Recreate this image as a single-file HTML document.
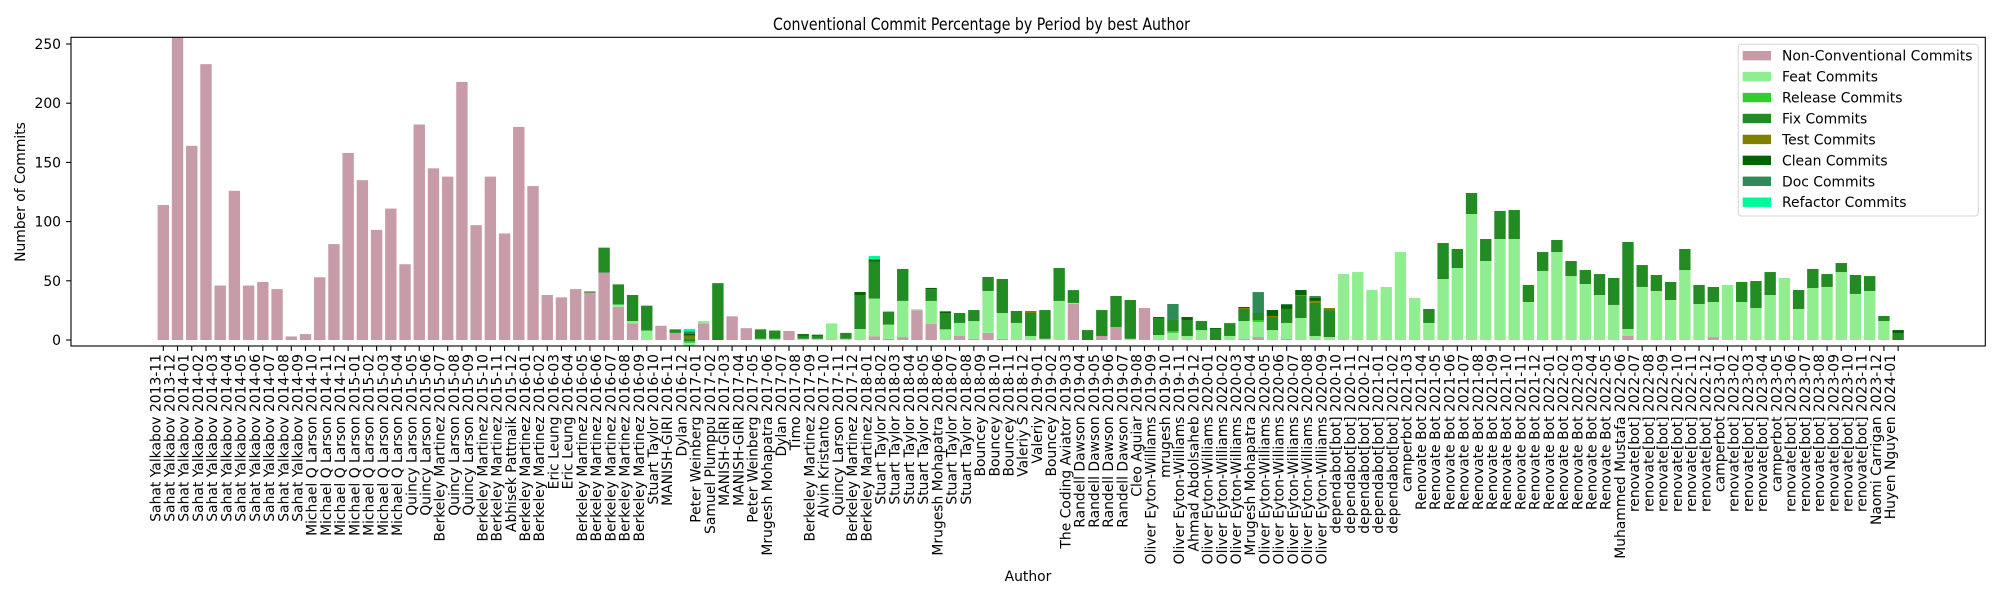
<!DOCTYPE html>
<html><head><meta charset="utf-8"><style>
html,body{margin:0;padding:0;background:#fff;}
svg{display:block;font-family:"DejaVu Sans","Liberation Sans",sans-serif;}
</style></head><body>
<svg id="chart" width="2000" height="600" xmlns="http://www.w3.org/2000/svg">
<text x="981.5" y="30" font-size="16.7" text-anchor="middle" textLength="417" lengthAdjust="spacingAndGlyphs">Conventional Commit Percentage by Period by best Author</text>
<text transform="translate(25,192) rotate(-90)" font-size="13.9" text-anchor="middle">Number of Commits</text>
<text x="1028" y="581" font-size="13.9" text-anchor="middle">Author</text>
<g id="bars"></g>
<g id="xticks"></g>
<g id="yticks"></g>
<rect x="71" y="37.3" width="1914.3" height="308.7" fill="none" stroke="#000" stroke-width="1.1"/>
<g id="legend"></g>
</svg>
<script>
const authors = ["Sahat Yalkabov","Sahat Yalkabov","Sahat Yalkabov","Sahat Yalkabov","Sahat Yalkabov","Sahat Yalkabov","Sahat Yalkabov","Sahat Yalkabov","Sahat Yalkabov","Sahat Yalkabov","Sahat Yalkabov",
"Michael Q Larson","Michael Q Larson","Michael Q Larson","Michael Q Larson","Michael Q Larson","Michael Q Larson","Michael Q Larson",
"Quincy Larson","Quincy Larson","Berkeley Martinez","Quincy Larson","Quincy Larson","Berkeley Martinez","Berkeley Martinez","Abhisek Pattnaik","Berkeley Martinez","Berkeley Martinez","Eric Leung","Eric Leung",
"Berkeley Martinez","Berkeley Martinez","Berkeley Martinez","Berkeley Martinez","Berkeley Martinez","Stuart Taylor","MANISH-GIRI","Dylan","Peter Weinberg","Samuel Plumppu",
"MANISH-GIRI","MANISH-GIRI","Peter Weinberg","Mrugesh Mohapatra","Dylan","Timo","Berkeley Martinez","Alvin Kristanto","Quincy Larson","Berkeley Martinez",
"Berkeley Martinez","Stuart Taylor","Stuart Taylor","Stuart Taylor","Stuart Taylor","Mrugesh Mohapatra","Stuart Taylor","Stuart Taylor","Bouncey","Bouncey",
"Bouncey","Valeriy S","Valeriy","Bouncey","The Coding Aviator","Randell Dawson","Randell Dawson","Randell Dawson","Randell Dawson","Cleo Aguiar",
"Oliver Eyton-Williams","mrugesh","Oliver Eyton-Williams","Ahmad Abdolsaheb","Oliver Eyton-Williams","Oliver Eyton-Williams","Oliver Eyton-Williams","Mrugesh Mohapatra","Oliver Eyton-Williams","Oliver Eyton-Williams",
"Oliver Eyton-Williams","Oliver Eyton-Williams","Oliver Eyton-Williams","dependabot[bot]","dependabot[bot]","dependabot[bot]","dependabot[bot]","dependabot[bot]","camperbot","Renovate Bot",
"Renovate Bot","Renovate Bot","Renovate Bot","Renovate Bot","Renovate Bot","Renovate Bot","Renovate Bot","Renovate Bot","Renovate Bot","Renovate Bot",
"Renovate Bot","Renovate Bot","Renovate Bot","Muhammed Mustafa","renovate[bot]","renovate[bot]","renovate[bot]","renovate[bot]","renovate[bot]","renovate[bot]",
"camperbot","renovate[bot]","renovate[bot]","renovate[bot]","camperbot","renovate[bot]","renovate[bot]","renovate[bot]","renovate[bot]","renovate[bot]",
"renovate[bot]","Naomi Carrigan","Huyen Nguyen"];
const periods = ["2013-11","2013-12","2014-01","2014-02","2014-03","2014-04","2014-05","2014-06","2014-07","2014-08","2014-09","2014-10","2014-11","2014-12",
"2015-01","2015-02","2015-03","2015-04","2015-05","2015-06","2015-07","2015-08","2015-09","2015-10","2015-11","2015-12",
"2016-01","2016-02","2016-03","2016-04","2016-05","2016-06","2016-07","2016-08","2016-09","2016-10","2016-11","2016-12",
"2017-01","2017-02","2017-03","2017-04","2017-05","2017-06","2017-07","2017-08","2017-09","2017-10","2017-11","2017-12",
"2018-01","2018-02","2018-03","2018-04","2018-05","2018-06","2018-07","2018-08","2018-09","2018-10","2018-11","2018-12",
"2019-01","2019-02","2019-03","2019-04","2019-05","2019-06","2019-07","2019-08","2019-09","2019-10","2019-11","2019-12",
"2020-01","2020-02","2020-03","2020-04","2020-05","2020-06","2020-07","2020-08","2020-09","2020-10","2020-11","2020-12",
"2021-01","2021-02","2021-03","2021-04","2021-05","2021-06","2021-07","2021-08","2021-09","2021-10","2021-11","2021-12",
"2022-01","2022-02","2022-03","2022-04","2022-05","2022-06","2022-07","2022-08","2022-09","2022-10","2022-11","2022-12",
"2023-01","2023-02","2023-03","2023-04","2023-05","2023-06","2023-07","2023-08","2023-09","2023-10","2023-11","2023-12","2024-01"];
const nonConv = [114,257,164,233,46,126,46,49,43,3, 5,53,81,158,135,93,111,64,182,145, 138,218,97,138,90,180,130,38,36,43,
40,57,28,14,0,12,6,-4.8,14,0, 20,10,0,0,7.6,0,0,0,0,0, 3,1,2.5,25,13.5,0,3.4,1,6,1, 0,0,0,0,30.4,0,3.4,11,0,27,
0,0,0,0,0,0,0.8,2.5,0,0.8, 0,0,0,0,0,0,0,0,0,0, 0,0,0,0,0,0,0,0,0,0, 0,0,0,3.4,0,0,0,0,0,2.5, 0,0,0,0,0,0,0,0,0,0, 0,0,0];
const feat = [0,0,0,0,0,0,0,0,0,0, 0,0,0,0,0,0,0,0,0,0, 0,0,0,0,0,0,0,0,0,0,
0,0,2,2,8,0,0,2.5,2,0, 0,0,1,1,0,1,1,14,1,9.3, 32,12,30.5,1,19.5,9,11,15,35.4,21.8, 14.4,3.4,1,33,0.9,0,0,0,1,0,
4.2,6,3.4,8.4,0,3.4,15.2,12.7,8.4,13.6, 18.6,3.4,2.5,55.7,57.4,42.2,44.8,74.3,35.5,14.4, 51.5,60.8,106.4,66.7,85.3,85.3,32.1,58.3,74.3,54,
47.3,38,29.6,5.9,44.8,41.4,33.8,59.1,30.4,29.6, 46.5,32.1,27,38,52.4,26.2,43.9,44.8,57.4,38.9, 41.4,16,0];
const release = [0,0,0,0,0,0,0,0,0,0, 0,0,0,0,0,0,0,0,0,0, 0,0,0,0,0,0,0,0,0,0,
0,0,0,0,0,0,0,1.4,0,0, 0,0,0,0,0,0,0,0,0,0, 0,0,0,0,0,0,0,0,0,0, 0,0,0,0,0,0,0,0,0,0,
0,1.6,0,0,0,0,0,1.7,0,0, 0,0,0,0,0,0,0,0,0,0, 0,0,0,0,0,0,0,0,0,0, 0,0,0,0,0,0,0,0,0,0, 0,0,0,0,0,0,0,0,0,0, 0,0,0];
const fix = [0,0,0,0,0,0,0,0,0,0, 0,0,0,0,0,0,0,0,0,0, 0,0,0,0,0,0,0,0,0,0,
1,21,17,22,21,0,3,2.3,0,48, 0,0,8,7,0,2.5,2.5,0,5,28.7, 31,11,27,0,10,13.5,8.4,9.3,11.8,28.7, 10.1,19.4,24.3,27.8,10.1,8.4,21.9,26.2,32.8,0,
14.4,9.3,13.5,7.6,9.3,10.1,10.2,5.9,11,11.8, 18.6,27.9,22.8,0,0,0,0,0,0,11.8, 30.4,16.1,17.8,18.6,23.7,24.5,14.4,16,10.2,12.7,
11.8,17.7,22.8,73.5,18.5,13.5,15.2,17.8,16.1,12.7, 0,16.9,22.8,19.4,0,16,16.1,10.9,7.6,16, 12.6,4.3,5.9];
const test = [0,0,0,0,0,0,0,0,0,0, 0,0,0,0,0,0,0,0,0,0, 0,0,0,0,0,0,0,0,0,0,
0,0,0,0,0,0,0,2.3,0,0, 0,0,0,0,0,0,0,0,0,0, 0,0,0,0,0,0,0,0,0,0, 0,1.7,0,0,0,0,0,0,0,0,
0,0,0,0,0,0.9,0.8,0,0.9,0, 0.8,1.7,1.7,0,0,0,0,0,0,0, 0,0,0,0,0,0,0,0,0,0, 0,0,0,0,0,0,0,0,0,0, 0,0,0,0,0,0,0,0,0,0, 0,0,0];
const clean = [0,0,0,0,0,0,0,0,0,0, 0,0,0,0,0,0,0,0,0,0, 0,0,0,0,0,0,0,0,0,0,
0,0,0,0,0,0,0,1.7,0,0, 0,0,0,0,0,1.5,1,0,0,2.5, 2,0,0,0,1,1.7,0,0,0,0, 0,0,0,0,0,0,0,0,0,0,
0.8,0,2.5,0,0.8,0,0.9,0,5,3.4, 4.2,2.5,0,0,0,0,0,0,0,0, 0,0,0,0,0,0,0,0,0,0, 0,0,0,0,0,0,0,0,0,0, 0,0,0,0,0,0,0,0,0,0, 0,0,2.5];
const doc = [0,0,0,0,0,0,0,0,0,0, 0,0,0,0,0,0,0,0,0,0, 0,0,0,0,0,0,0,0,0,0,
0,0,0,0,0,0,0,2,0,0, 0,0,0,0,0,0,0,0,0,0, 0,0,0,0,0,0,0,0,0,0, 0,0,0,0,0.8,0,0,0,0,0,
0,13.5,0,0,0,0,0,17.7,0,0.8, 0,1.7,0,0,0,0,0,0,0,0, 0,0,0,0,0,0,0,0,0,0, 0,0,0,0,0,0,0,0,0,0, 0,0,0,0,0,0,0,0,0,0, 0,0,0];
const refactor = [0,0,0,0,0,0,0,0,0,0, 0,0,0,0,0,0,0,0,0,0, 0,0,0,0,0,0,0,0,0,0,
0,0,0,0,0,0,0,2,0,0, 0,0,0,0,0,0,0,0,0,0, 3,0,0,0,0,0,0,0,0,0, 0,0,0,0,0,0,0,0,0,0,
0,0,0,0,0,0,0,0,0,0, 0,0,0,0,0,0,0,0,0,0, 0,0,0,0,0,0,0,0,0,0, 0,0,0,0,0,0,0,0,0,0, 0,0,0,0,0,0,0,0,0,0, 0,0,0];
const yTicks = [0,50,100,150,200,250];
const seriesNames = ["Non-Conventional Commits","Feat Commits","Release Commits","Fix Commits","Test Commits","Clean Commits","Doc Commits","Refactor Commits"];
const seriesKeys = ["non-conventional","feat","release","fix","test","clean","doc","refactor"];
const seriesColors = ["#c89ba8","#90ee90","#32cd32","#228b22","#808000","#006400","#2e8b57","#00fa9a"];
const seriesData = [nonConv,feat,release,fix,test,clean,doc,refactor];

const NS = "http://www.w3.org/2000/svg";
const AX_L = 71, AX_R = 1985.3, AX_T = 37.3, AX_B = 346;
const Y0 = 340, PXU = 1.184;
const X0 = 163.3, STEP = 14.22, BW = STEP * 0.8;
function yScale(v){ return Y0 - v * PXU; }
function xScale(i){ return X0 + i * STEP; }
function mk(tag, attrs, parent){ const e = document.createElementNS(NS, tag); for (const k in attrs) e.setAttribute(k, attrs[k]); parent.appendChild(e); return e; }

const svg = document.getElementById("chart");
const defs = mk("defs", {}, svg);
const cp = mk("clipPath", {id: "plotclip"}, defs);
mk("rect", {x: AX_L, y: AX_T, width: AX_R - AX_L, height: AX_B - AX_T}, cp);

const barsG = document.getElementById("bars");
barsG.setAttribute("clip-path", "url(#plotclip)");
for (let i = 0; i < periods.length; i++) {
  let base = 0;
  for (let s = 0; s < seriesData.length; s++) {
    const v = seriesData[s][i];
    if (!v) continue;
    const a = yScale(base), b = yScale(base + v);
    const r = mk("rect", {x: xScale(i) - BW/2, y: Math.min(a,b), width: BW, height: Math.abs(a-b), fill: seriesColors[s]}, barsG);
    
    
    base += v;
  }
}

const xt = document.getElementById("xticks");
for (let i = 0; i < periods.length; i++) {
  const x = xScale(i);
  const tk = mk("line", {x1: x, x2: x, y1: AX_B, y2: AX_B + 4.9, stroke: "#000", "stroke-width": 1.1}, xt);
  
  
  const t = mk("text", {transform: "translate(" + (x - 3) + "," + 354 + ") rotate(-90)", "font-size": 13.9, "text-anchor": "end"}, xt);
  
  
  t.textContent = authors[i] + " " + periods[i];
}

const yt = document.getElementById("yticks");
yTicks.forEach(v => {
  const y = yScale(v);
  const tk = mk("line", {x1: AX_L - 4.9, x2: AX_L, y1: y, y2: y, stroke: "#000", "stroke-width": 1.1}, yt);
  
  
  const t = mk("text", {x: 61, y: y + 5, "font-size": 13.9, "text-anchor": "end"}, yt);
  
  
  t.textContent = v;
});

const lg = document.getElementById("legend");
const box = mk("rect", {x: 1738.3, y: 44.3, width: 240, height: 171.7, rx: 3, fill: "#fff", "fill-opacity": 0.8, stroke: "#d6d6d6", "stroke-width": 1}, lg);


seriesNames.forEach((n, k) => {
  const cy = 55.7 + k * 20.93;
  const g = mk("g", {}, lg);
  
  
  mk("rect", {x: 1742.7, y: cy - 4.7, width: 28.3, height: 9.4, fill: seriesColors[k]}, g);
  const t = mk("text", {x: 1782, y: cy + 5, "font-size": 13.9}, g);
  t.textContent = n;
});
</script>
</body></html>
